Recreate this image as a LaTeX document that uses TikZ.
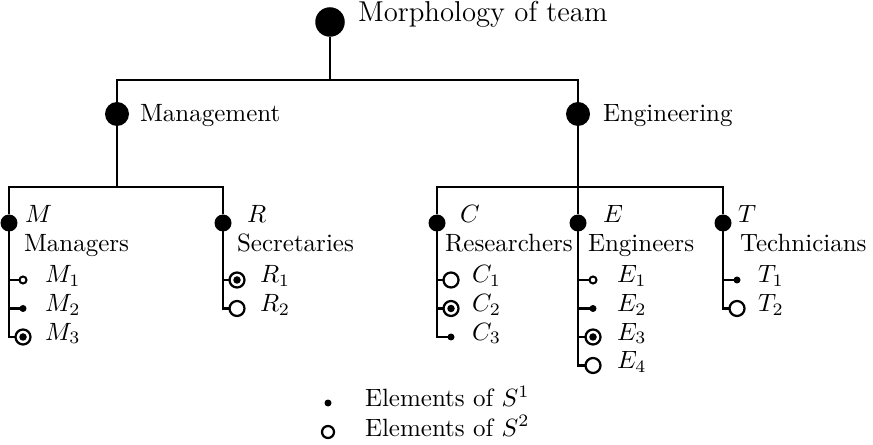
\documentclass[tikz,border=0pt]{standalone}
\begin{document}
\begin{tikzpicture}[x=0.4pt,y=-0.4pt,
  every node/.style={inner sep=0pt, outer sep=0pt},
  edge/.style={line width=0.95pt},
  rootdot/.style={circle, fill, minimum size=11.8pt},
  groupdot/.style={circle, fill, minimum size=9.6pt},
  unitdot/.style={circle, fill, minimum size=6.8pt},
  tinyring/.style={circle, draw, line width=0.8pt, fill=white, minimum size=2.8pt},
  tinydot/.style={circle, fill, minimum size=2.8pt},
  ring/.style={circle, draw, line width=0.9pt, fill=white, minimum size=6pt},
  dotring/.style={ring},
  txt/.style={anchor=base west},
]
\useasboundingbox (0,0) rectangle (873,445);

% top levels
\node[rootdot] (root) at (330,22) {};
\node[txt, font=\fontsize{11.5}{14}\selectfont] (roottxt) at (358,22) {Morphology of team};
\coordinate (j0) at (330,80);

\node[groupdot] (mgmt) at (117,114) {};
\node[txt] (mgmttxt) at (140,122) {Management};
\node[groupdot] (eng) at (578,114) {};
\node[txt] (engtxt) at (603,122) {Engineering};

\draw[edge] (root) -- (j0);
\draw[edge] (mgmt) |- (j0) -| (eng);

% second level
\coordinate (j1) at (117,187);
\coordinate (j2) at (578,187);

\node[unitdot] (M) at (9,223) {};
\node[unitdot] (R) at (223,223) {};
\node[unitdot] (C) at (437,223) {};
\node[unitdot] (E) at (578,223) {};
\node[unitdot] (T) at (723,223) {};

\draw[edge] (mgmt) -- (j1);
\draw[edge] (M) |- (j1) -| (R);
\draw[edge] (eng) -- (E);
\draw[edge] (C) |- (j2) -| (T);

\node[txt] (Mlab) at (25,223) {$M$};
\node[txt] (Mname) at (24,252) {Managers};
\node[txt] (Rlab) at (247,223) {$R$};
\node[txt] (Rname) at (237,252) {Secretaries};
\node[txt] (Clab) at (460,223) {$C$};
\node[txt] (Cname) at (445,252) {Researchers};
\node[txt] (Elab) at (603,223) {$E$};
\node[txt] (Ename) at (588,252) {Engineers};
\node[txt] (Tlab) at (738,223) {$T$};
\node[txt] (Tname) at (740,252) {Technicians};

% managers
\node[tinyring] (m1) at (23,280) {};
\node[tinydot]  (m2) at (23,308.5) {};
\node[dotring]  (m3) at (23,337) {};
\draw[edge] (M) |- (m3);
\draw[edge] (m1) -- (m1 -| M);
\draw[edge] (m2) -- (m2 -| M);
\node[txt] (m1t) at (45,283) {$M_1$};
\node[txt] (m2t) at (45,311.5) {$M_2$};
\node[txt] (m3t) at (45,340) {$M_3$};

% secretaries
\node[dotring] (r1) at (237,280) {};
\node[ring]    (r2) at (237,308.5) {};
\draw[edge] (R) |- (r2);
\draw[edge] (r1) -- (r1 -| R);
\node[txt] (r1t) at (260,283) {$R_1$};
\node[txt] (r2t) at (260,311.5) {$R_2$};

% researchers
\node[ring]    (c1) at (451,280) {};
\node[dotring] (c2) at (451,308.5) {};
\node[tinydot] (c3) at (451,337) {};
\draw[edge] (C) |- (c3);
\draw[edge] (c1) -- (c1 -| C);
\draw[edge] (c2) -- (c2 -| C);
\node[txt] (c1t) at (472,283) {$C_1$};
\node[txt] (c2t) at (472,311.5) {$C_2$};
\node[txt] (c3t) at (472,340) {$C_3$};

% engineers
\node[tinyring] (e1) at (593,280) {};
\node[tinydot]  (e2) at (593,308.5) {};
\node[dotring]  (e3) at (593,337) {};
\node[ring]     (e4) at (593,365.5) {};
\draw[edge] (E) |- (e4);
\draw[edge] (e1) -- (e1 -| E);
\draw[edge] (e2) -- (e2 -| E);
\draw[edge] (e3) -- (e3 -| E);
\node[txt] (e1t) at (617,283) {$E_1$};
\node[txt] (e2t) at (617,311.5) {$E_2$};
\node[txt] (e3t) at (617,340) {$E_3$};
\node[txt] (e4t) at (617,368.5) {$E_4$};

% technicians
\node[tinydot] (t1) at (737,280) {};
\node[ring]    (t2) at (737,308.5) {};
\draw[edge] (T) |- (t2);
\draw[edge] (t1) -- (t1 -| T);
\node[txt] (t1t) at (758,283) {$T_1$};
\node[txt] (t2t) at (758,311.5) {$T_2$};

% inner dots of the ringed members (both sets)
\foreach \n in {m3,r1,c2,e3} \fill (\n.center) circle[radius=1.5pt];

% legend
\node[circle, fill, minimum size=2.8pt] (key1) at (328,403) {};
\node[circle, draw, line width=0.9pt, minimum size=4.8pt] (key2) at (328,432) {};
\node[txt] (key1t) at (365,407) {Elements of $S^1$};
\node[txt] (key2t) at (365,436) {Elements of $S^2$};
\end{tikzpicture}
\end{document}
